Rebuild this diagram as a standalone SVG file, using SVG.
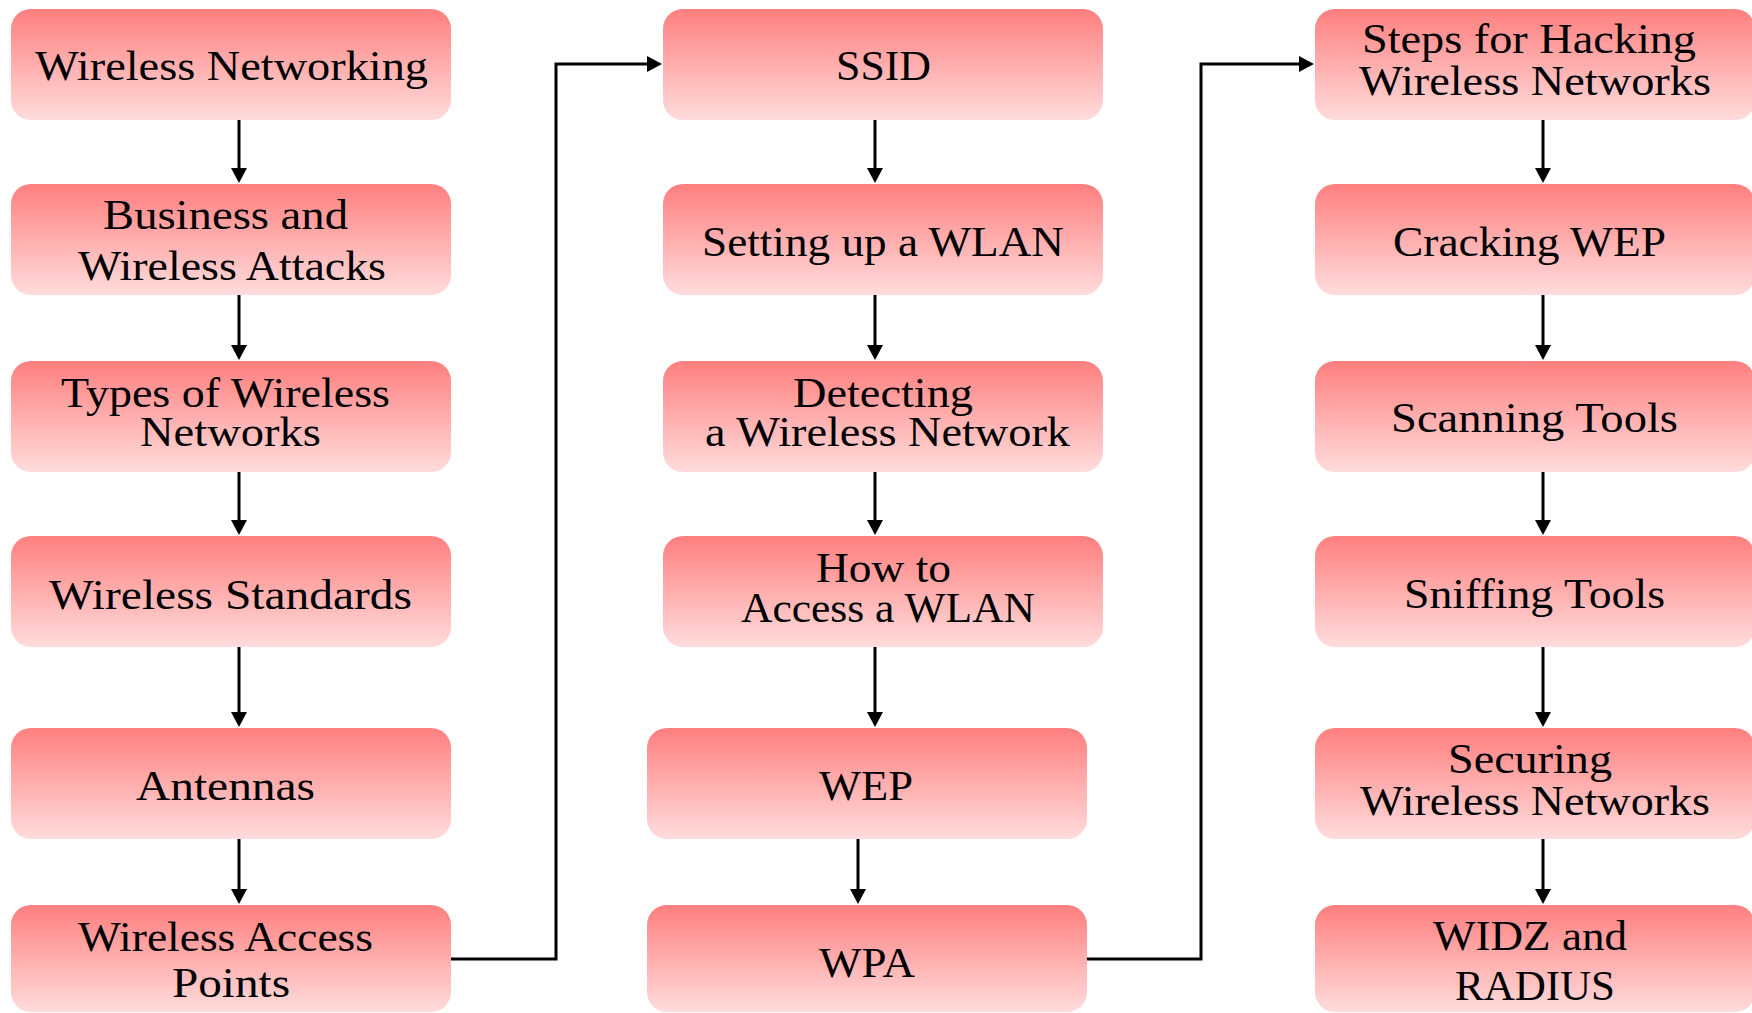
<svg xmlns="http://www.w3.org/2000/svg" width="1752" height="1013" viewBox="0 0 1752 1013">
  <defs>
    <linearGradient id="boxFill" x1="0" y1="0" x2="0" y2="1">
      <stop offset="0" stop-color="#ff7f7f"/>
      <stop offset="1" stop-color="#ffdcdc"/>
    </linearGradient>
    <marker id="arrow" markerUnits="userSpaceOnUse" markerWidth="16" markerHeight="16" refX="0" refY="8" orient="auto">
      <path d="M0,0 L15,8 L0,16 z" fill="#000"/>
    </marker>
  </defs>
  <style>
    .box { fill: url(#boxFill); }
    .lbl { font-family: "Liberation Serif", "Times New Roman", serif; font-size: 43px; fill: #000; }
    .wire { fill: none; stroke: #000; stroke-width: 3; marker-end: url(#arrow); }
  </style>
  <rect width="1752" height="1013" fill="#fff"/>

  <g id="connectors">
    <path class="wire" d="M239,120 V168"/>
    <path class="wire" d="M239,295 V345"/>
    <path class="wire" d="M239,472 V520"/>
    <path class="wire" d="M239,647 V712"/>
    <path class="wire" d="M239,839 V889"/>
    <path class="wire" d="M451,959 H556 V64 H647"/>
    <path class="wire" d="M875,120 V168"/>
    <path class="wire" d="M875,295 V345"/>
    <path class="wire" d="M875,472 V520"/>
    <path class="wire" d="M875,647 V712"/>
    <path class="wire" d="M858,839 V889"/>
    <path class="wire" d="M1086,959 H1201 V64 H1299"/>
    <path class="wire" d="M1543,120 V168"/>
    <path class="wire" d="M1543,295 V345"/>
    <path class="wire" d="M1543,472 V520"/>
    <path class="wire" d="M1543,647 V712"/>
    <path class="wire" d="M1543,839 V889"/>
  </g>

  <!-- first column -->
  <g id="wireless-networking">
    <rect class="box" x="11" y="9" width="440" height="111" rx="20"/>
    <text class="lbl" x="35" y="80" textLength="393" lengthAdjust="spacingAndGlyphs">Wireless Networking</text>
  </g>
  <g id="business-attacks">
    <rect class="box" x="11" y="184" width="440" height="111" rx="20"/>
    <text class="lbl" x="103" y="229" textLength="245" lengthAdjust="spacingAndGlyphs">Business and</text>
    <text class="lbl" x="78" y="280" textLength="308" lengthAdjust="spacingAndGlyphs">Wireless Attacks</text>
  </g>
  <g id="types-of-networks">
    <rect class="box" x="11" y="361" width="440" height="111" rx="20"/>
    <text class="lbl" x="61" y="407" textLength="329" lengthAdjust="spacingAndGlyphs">Types of Wireless</text>
    <text class="lbl" x="140" y="446" textLength="181" lengthAdjust="spacingAndGlyphs">Networks</text>
  </g>
  <g id="wireless-standards">
    <rect class="box" x="11" y="536" width="440" height="111" rx="20"/>
    <text class="lbl" x="49" y="609" textLength="363" lengthAdjust="spacingAndGlyphs">Wireless Standards</text>
  </g>
  <g id="antennas">
    <rect class="box" x="11" y="728" width="440" height="111" rx="20"/>
    <text class="lbl" x="136" y="800" textLength="179" lengthAdjust="spacingAndGlyphs">Antennas</text>
  </g>
  <g id="access-points">
    <rect class="box" x="11" y="905" width="440" height="107" rx="20"/>
    <text class="lbl" x="78" y="951" textLength="295" lengthAdjust="spacingAndGlyphs">Wireless Access</text>
    <text class="lbl" x="172" y="997" textLength="118" lengthAdjust="spacingAndGlyphs">Points</text>
  </g>

  <!-- second column -->
  <g id="ssid">
    <rect class="box" x="663" y="9" width="440" height="111" rx="20"/>
    <text class="lbl" x="836" y="80" textLength="95" lengthAdjust="spacingAndGlyphs">SSID</text>
  </g>
  <g id="setting-up-wlan">
    <rect class="box" x="663" y="184" width="440" height="111" rx="20"/>
    <text class="lbl" x="702" y="256" textLength="362" lengthAdjust="spacingAndGlyphs">Setting up a WLAN</text>
  </g>
  <g id="detecting-network">
    <rect class="box" x="663" y="361" width="440" height="111" rx="20"/>
    <text class="lbl" x="793" y="407" textLength="180" lengthAdjust="spacingAndGlyphs">Detecting</text>
    <text class="lbl" x="705" y="446" textLength="365" lengthAdjust="spacingAndGlyphs">a Wireless Network</text>
  </g>
  <g id="access-wlan">
    <rect class="box" x="663" y="536" width="440" height="111" rx="20"/>
    <text class="lbl" x="816" y="582" textLength="135" lengthAdjust="spacingAndGlyphs">How to</text>
    <text class="lbl" x="741" y="622" textLength="294" lengthAdjust="spacingAndGlyphs">Access a WLAN</text>
  </g>
  <g id="wep">
    <rect class="box" x="647" y="728" width="440" height="111" rx="20"/>
    <text class="lbl" x="819" y="800" textLength="94" lengthAdjust="spacingAndGlyphs">WEP</text>
  </g>
  <g id="wpa">
    <rect class="box" x="647" y="905" width="440" height="107" rx="20"/>
    <text class="lbl" x="819" y="977" textLength="96" lengthAdjust="spacingAndGlyphs">WPA</text>
  </g>

  <!-- third column -->
  <g id="hacking-steps">
    <rect class="box" x="1315" y="9" width="440" height="111" rx="20"/>
    <text class="lbl" x="1362" y="53" textLength="334" lengthAdjust="spacingAndGlyphs">Steps for Hacking</text>
    <text class="lbl" x="1359" y="95" textLength="352" lengthAdjust="spacingAndGlyphs">Wireless Networks</text>
  </g>
  <g id="cracking-wep">
    <rect class="box" x="1315" y="184" width="440" height="111" rx="20"/>
    <text class="lbl" x="1393" y="256" textLength="273" lengthAdjust="spacingAndGlyphs">Cracking WEP</text>
  </g>
  <g id="scanning-tools">
    <rect class="box" x="1315" y="361" width="440" height="111" rx="20"/>
    <text class="lbl" x="1391" y="432" textLength="287" lengthAdjust="spacingAndGlyphs">Scanning Tools</text>
  </g>
  <g id="sniffing-tools">
    <rect class="box" x="1315" y="536" width="440" height="111" rx="20"/>
    <text class="lbl" x="1404" y="608" textLength="261" lengthAdjust="spacingAndGlyphs">Sniffing Tools</text>
  </g>
  <g id="securing-networks">
    <rect class="box" x="1315" y="728" width="440" height="111" rx="20"/>
    <text class="lbl" x="1448" y="773" textLength="164" lengthAdjust="spacingAndGlyphs">Securing</text>
    <text class="lbl" x="1360" y="815" textLength="350" lengthAdjust="spacingAndGlyphs">Wireless Networks</text>
  </g>
  <g id="widz-radius">
    <rect class="box" x="1315" y="905" width="440" height="107" rx="20"/>
    <text class="lbl" x="1433" y="950" textLength="194" lengthAdjust="spacingAndGlyphs">WIDZ and</text>
    <text class="lbl" x="1455" y="1000" textLength="160" lengthAdjust="spacingAndGlyphs">RADIUS</text>
  </g>
</svg>
